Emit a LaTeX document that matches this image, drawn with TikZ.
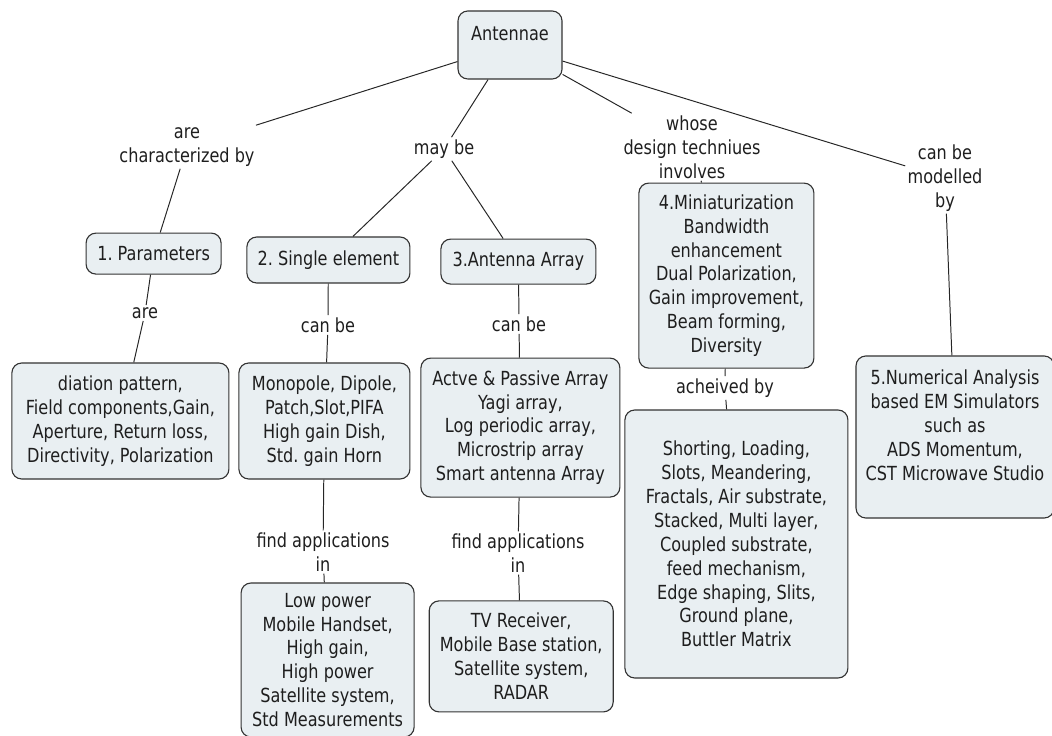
\documentclass[tikz,border=0pt]{standalone}
\usepackage{fontspec}
\setmainfont{DejaVu Sans}[FakeStretch=0.83]
\usepackage{xcolor}
\usepackage{tikz}
\usetikzlibrary{positioning}
\definecolor{boxFill}{HTML}{E9EFF2}
\definecolor{boxLine}{HTML}{333333}
\definecolor{inkText}{HTML}{1E1E1E}
\frenchspacing

\begin{document}
\begin{tikzpicture}[
  font=\fontsize{13.8}{17}\selectfont,
  text=inkText,
  box/.style={draw=boxLine, fill=boxFill, rounded corners=7pt, align=center, line width=0.8pt, inner sep=3pt},
  lab/.style={align=center, inner sep=1.5pt},
  link/.style={draw=black!85, line width=0.7pt}
]
\useasboundingbox (0,0) rectangle (26.3,-18.4);

% ---------- ROOT ----------
\node[box, minimum width=2.6cm, minimum height=1.7cm] (ant) at (12.75,-1.125) {Antennae\\ \mbox{}};

% ---------- LINK LABELS FROM ROOT ----------
\node[lab] (charby) at (4.675,-3.675) {are\\characterized by};
\node[lab] (maybe) at (11.1,-3.725) {may be};
\node[lab] (whose) at (17.3,-3.675) {whose\\design techniues\\involves};
\node[lab] (modby) at (23.625,-4.45) {can be\\modelled\\by};

% ---------- SECOND ROW ----------
\node[box, minimum width=3.375cm, minimum height=1.025cm] (param) at (3.84,-6.34) {1. Parameters};
\node[box, minimum width=4.075cm, minimum height=1.15cm] (single) at (8.21,-6.5) {2. Single element};
\node[box, minimum width=3.875cm, minimum height=1.125cm] (array) at (12.96,-6.54) {3.Antenna Array};
\node[box, minimum width=4.375cm, minimum height=4.625cm] (mini) at (18.16,-6.89) {4.Miniaturization\\Bandwidth\\enhancement\\Dual Polarization,\\Gain improvement,\\Beam forming,\\Diversity};
\node[box, minimum width=4.95cm, minimum height=4.05cm] (numer) at (23.875,-10.925) {5.Numerical Analysis\\based EM Simulators\\such as\\ADS Momentum,\\CST Microwave Studio\\ \mbox{}};

\draw[link] (ant) -- (charby);
\draw[link] (charby) -- (param);
\draw[link] (ant) -- (maybe);
\draw[link] (maybe) -- (single);
\draw[link] (maybe) -- (array);
\draw[link] (ant) -- (whose);
\draw[link] (whose) -- (mini);
\draw[link] (ant) -- (modby);
\draw[link] (modby) -- (numer);

% ---------- THIRD ROW ----------
\node[lab] (are) at (3.625,-7.825) {are};
\node[lab] (canbeA) at (8.2,-8.125) {can be};
\node[lab] (canbeB) at (12.975,-8.1) {can be};
\node[lab] (achby) at (18.125,-9.7) {acheived by};

\node[box, minimum width=5.425cm, minimum height=2.9cm] (plist) at (3.01,-10.525) {diation pattern,\\Field components,Gain,\\Aperture, Return loss,\\Directivity, Polarization};
\node[box, minimum width=4.275cm, minimum height=2.9cm] (slist) at (8.11,-10.525) {Monopole, Dipole,\\Patch,Slot,PIFA\\High gain Dish,\\Std. gain Horn};
\node[box, minimum width=4.975cm, minimum height=3.475cm] (alist) at (13.01,-10.69) {Actve \& Passive Array\\Yagi array,\\Log periodic array,\\Microstrip array\\Smart antenna Array};
\node[box, minimum width=5.575cm, minimum height=6.7cm] (tech) at (18.41,-13.6) {Shorting, Loading,\\Slots, Meandering,\\Fractals, Air substrate,\\Stacked, Multi layer,\\Coupled substrate,\\feed mechanism,\\Edge shaping, Slits,\\Ground plane,\\Buttler Matrix};

\draw[link] (param) -- (are);
\draw[link] (are) -- (plist);
\draw[link] (single) -- (canbeA);
\draw[link] (canbeA) -- (slist);
\draw[link] (array) -- (canbeB);
\draw[link] (canbeB) -- (alist);
\draw[link] (mini) -- (achby);
\draw[link] (achby) -- (tech);

% ---------- APPLICATIONS ----------
\node[lab] (findA) at (8.075,-13.8) {find applications\\in};
\node[lab] (findB) at (12.95,-13.825) {find applications\\in};

\node[box, minimum width=4.325cm, minimum height=3.85cm] (sapp) at (8.19,-16.5) {Low power\\Mobile Handset,\\High gain,\\High power\\Satellite system,\\Std Measurements};
\node[box, minimum width=4.6cm, minimum height=2.775cm] (aapp) at (13.03,-16.41) {TV Receiver,\\Mobile Base station,\\Satellite system,\\RADAR};

\draw[link] (slist) -- (findA);
\draw[link] (findA) -- (sapp);
\draw[link] (alist) -- (findB);
\draw[link] (findB) -- (aapp);

\end{tikzpicture}
\end{document}
